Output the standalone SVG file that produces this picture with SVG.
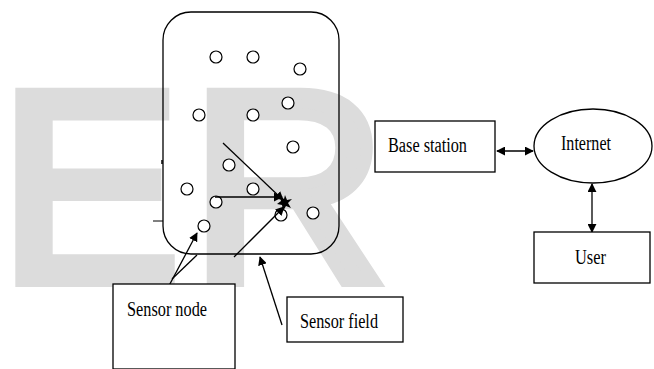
<svg xmlns="http://www.w3.org/2000/svg" width="654" height="369" viewBox="0 0 654 369">
<style>
.wm{font-family:"Liberation Sans",Arial,sans-serif;font-size:272px;fill:#dcdcdc;stroke:#dcdcdc;stroke-width:12;stroke-linejoin:miter;letter-spacing:10px}
.box{fill:#fff;stroke:#000;stroke-width:1.3}
.ln{fill:none;stroke:#000;stroke-width:1.3}
.nd{fill:#fff;stroke:#000;stroke-width:1.2}
.lbl{font-family:"Liberation Serif","Times New Roman",serif;font-size:20px;fill:#000}
</style>
<defs>
<marker id="ah" viewBox="0 0 10 10" refX="9" refY="5" markerWidth="9" markerHeight="9" markerUnits="userSpaceOnUse" orient="auto-start-reverse">
<path d="M0,0 L10,5 L0,10 Z" fill="#000"/>
</marker>
</defs>
<text class="wm" x="-1" y="281">ER</text>
<g id="sensor-field">
<rect x="163" y="12" width="176" height="242" rx="28" ry="28" fill="none" stroke="#000" stroke-width="1.3"/>
<line x1="162" y1="160" x2="162" y2="164" stroke="#000" stroke-width="1.5"/>
<line x1="153" y1="221" x2="163" y2="221" stroke="#000" stroke-width="1"/>
</g>
<g id="sensor-nodes">
<circle class="nd" cx="216" cy="57" r="6"/>
<circle class="nd" cx="253" cy="57" r="6"/>
<circle class="nd" cx="300" cy="69" r="6"/>
<circle class="nd" cx="199" cy="115" r="6"/>
<circle class="nd" cx="253" cy="115" r="6"/>
<circle class="nd" cx="288" cy="103" r="6"/>
<circle class="nd" cx="293" cy="147" r="6"/>
<circle class="nd" cx="229" cy="165" r="6"/>
<circle class="nd" cx="187" cy="189" r="6"/>
<circle class="nd" cx="253" cy="189" r="6"/>
<circle class="nd" cx="216" cy="202" r="6"/>
<circle class="nd" cx="281" cy="215" r="6"/>
<circle class="nd" cx="313" cy="213" r="6"/>
<circle class="nd" cx="204" cy="226" r="6"/>
</g>
<g id="sink">
<polygon points="285,195 287,200 292,199 288,203 291,208 286,206 283,211 282,205 277,204 281,201 280,196 284,199" fill="#000"/>
</g>
<g id="connectors">
<line class="ln" x1="223" y1="143" x2="283" y2="200" marker-end="url(#ah)"/>
<line class="ln" x1="215" y1="197" x2="282" y2="197" stroke-width="2.2" marker-end="url(#ah)"/>
<line class="ln" x1="234" y1="257" x2="284" y2="207" marker-end="url(#ah)"/>
<line class="ln" x1="163" y1="297" x2="197" y2="233" marker-end="url(#ah)"/>
<line class="ln" x1="172" y1="279" x2="197" y2="255"/>
<line class="ln" x1="282" y1="325" x2="260" y2="257" marker-end="url(#ah)"/>
<line class="ln" x1="497" y1="151" x2="533" y2="151" stroke-width="2" marker-start="url(#ah)" marker-end="url(#ah)"/>
<line class="ln" x1="592" y1="184" x2="592" y2="232" stroke-width="2" marker-start="url(#ah)" marker-end="url(#ah)"/>
</g>
<g id="sensor-node-label">
<rect class="box" x="113" y="284" width="122" height="85"/>
<text class="lbl" x="127" y="316" textLength="80" lengthAdjust="spacingAndGlyphs">Sensor node</text>
</g>
<g id="sensor-field-label">
<rect class="box" x="287" y="297" width="116" height="45"/>
<text class="lbl" x="300" y="328" textLength="78" lengthAdjust="spacingAndGlyphs">Sensor field</text>
</g>
<g id="base-station">
<rect class="box" x="375" y="121" width="120" height="51"/>
<text class="lbl" x="388" y="152" textLength="79" lengthAdjust="spacingAndGlyphs">Base station</text>
</g>
<g id="internet">
<ellipse cx="593" cy="146" rx="59" ry="37" fill="#fff" stroke="#000" stroke-width="1.3"/>
<text class="lbl" x="561" y="150" textLength="50" lengthAdjust="spacingAndGlyphs">Internet</text>
</g>
<g id="user">
<rect class="box" x="534" y="232" width="116" height="51"/>
<text class="lbl" x="575" y="264" textLength="31" lengthAdjust="spacingAndGlyphs">User</text>
</g>
</svg>
